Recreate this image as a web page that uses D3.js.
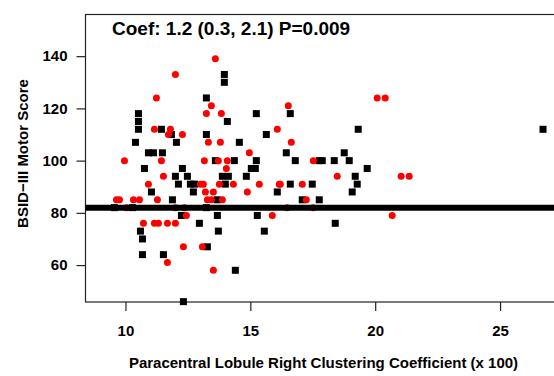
<!DOCTYPE html>
<html><head><meta charset="utf-8">
<script src="https://cdn.jsdelivr.net/npm/d3@7"></script>
<style>body{margin:0;background:#fff}svg{display:block}text{font-family:"Liberation Sans",Arial,sans-serif;font-weight:bold;fill:#000}</style>
</head><body>
<script>
const blackX = [13.96,13.96,13.24,10.52,10.52,10.52,14.08,15.24,11.44,13.24,11.84,15.64,10.4,12.04,14.56,10.92,11.12,11.48,13.6,14.36,15.24,10.76,12.28,15.04,15.2,12.0,12.48,13.88,14.12,14.84,12.12,12.6,12.76,14.0,11.04,12.72,16.08,11.88,13.68,9.56,10.28,13.24,12.24,13.68,15.28,12.96,10.6,13.72,15.56,10.68,13.28,10.68,11.52,14.4,12.32,16.6,19.32,26.72,16.44,18.76,16.8,17.76,17.88,18.36,18.96,19.68,19.2,16.6,17.48,19.28,19.08,17.08,17.76,18.4];
const blackY = [133,130,124,118,115,112,115,118,112,110,110,110,107,107,107,103,103,103,100,100,100,97,97,97,97,94,94,94,94,94,91,91,91,91,88,88,88,85,85,82,82,82,79,79,79,76,73,73,73,70,67,64,64,58,46,118,112,112,103,103,100,100,100,100,100,97,94,91,91,91,88,85,85,76];
const redX = [13.6,12.0,11.24,13.44,13.24,13.84,11.16,11.8,16.08,11.72,12.28,13.32,13.8,14.96,9.96,11.44,13.16,13.72,14.08,14.04,11.52,10.92,13.0,13.12,13.76,14.32,15.36,16.16,13.2,13.52,14.88,9.64,9.76,10.32,10.56,11.28,13.28,13.44,13.88,10.04,12.0,12.36,16.48,17.52,12.44,15.88,10.72,11.16,11.32,11.68,12.0,12.32,13.08,11.68,13.52,16.52,20.08,20.4,16.64,17.52,18.48,21.04,21.36,16.2,17.08,17.24,20.68];
const redY = [139,133,124,121,118,118,112,112,112,110,110,107,107,103,100,100,100,100,100,97,94,91,91,91,91,91,91,91,88,88,88,85,85,85,85,85,85,85,85,82,82,82,82,82,79,79,76,76,76,76,76,67,67,61,58,121,124,124,107,100,94,94,94,91,91,85,79];
const xTicks = [10,15,20,25];
const yTicks = [60,80,100,120,140];
const refLine = 82;
const title = "Coef: 1.2 (0.3, 2.1) P=0.009";
const xTitle = "Paracentral Lobule Right Clustering Coefficient (x 100)";
const yTitle = "BSID\u2212III Motor Score";

const W = 554, H = 376;
const L = 85.5, R = 565, T = 14.5, B = 302;
const svg = d3.select("body").append("svg").attr("width", W).attr("height", H);
const x = d3.scaleLinear().domain([8.4, 27.6]).range([L, R]);
const y = d3.scaleLinear().domain([45.86, 155.96]).range([B, T]);

// box
svg.append("rect").attr("x", L).attr("y", T).attr("width", R - L).attr("height", B - T)
  .attr("fill", "none").attr("stroke", "#222").attr("stroke-width", 1.2);

// axes
const xa = svg.append("g").attr("transform", `translate(0,${B})`)
  .call(d3.axisBottom(x).tickValues(xTicks).tickSize(9).tickPadding(14).tickFormat(d3.format("d")));
const ya = svg.append("g").attr("transform", `translate(${L},0)`)
  .call(d3.axisLeft(y).tickValues(yTicks).tickSize(9).tickPadding(9).tickFormat(d3.format("d")));
[xa, ya].forEach(g => {
  g.select(".domain").remove();
  g.selectAll("line").attr("stroke", "#222").attr("stroke-width", 1.2);
  g.selectAll("text").attr("font-size", 15).attr("font-weight", "bold")
    .attr("font-family", '"Liberation Sans",Arial,sans-serif').attr("fill", "#000");
});

// points
const blacks = blackX.map((v, i) => [v, blackY[i]]);
const reds = redX.map((v, i) => [v, redY[i]]);
svg.append("g").selectAll("rect").data(blacks).join("rect")
  .attr("x", d => x(d[0]) - 3.5).attr("y", d => y(d[1]) - 3.5)
  .attr("width", 7).attr("height", 7).attr("fill", "#000");
svg.append("g").selectAll("circle").data(reds).join("circle")
  .attr("cx", d => x(d[0])).attr("cy", d => y(d[1])).attr("r", 3.5).attr("fill", "#ff0000");

// reference line
svg.append("line").attr("x1", L).attr("x2", R).attr("y1", y(refLine)).attr("y2", y(refLine))
  .attr("stroke", "#000").attr("stroke-width", 6);

// texts
svg.append("text").attr("x", 112).attr("y", 34.5).attr("font-size", 19).text(title);
svg.append("text").attr("x", 323.5).attr("y", 368).attr("text-anchor", "middle")
  .attr("font-size", 15).text(xTitle);
svg.append("text").attr("transform", `translate(28,153.5) rotate(-90)`)
  .attr("text-anchor", "middle").attr("font-size", 15).text(yTitle);
</script>
</body></html>
